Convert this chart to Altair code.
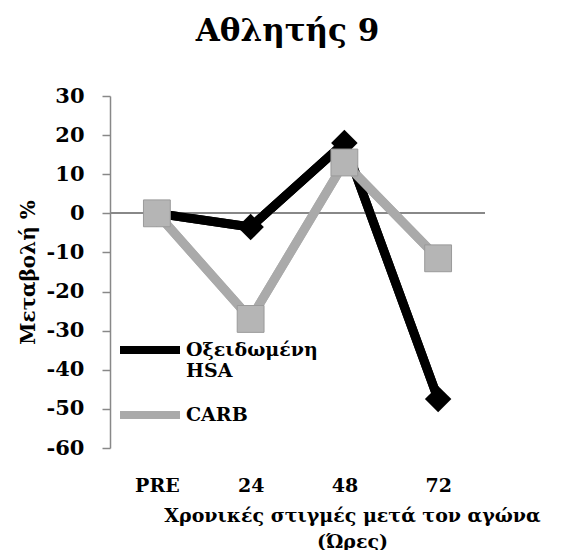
import altair as alt
import pandas as pd

times = ["PRE", "24", "48", "72"]
hsa = [0, -3.5, 18, -47.5]
carb = [0, -27, 13, -11.5]
series_names = ["Οξειδωμένη HSA", "CARB"]
y_ticks = [-60, -50, -40, -30, -20, -10, 0, 10, 20, 30]

rows = []
for t, v in zip(times, hsa):
    rows.append({"t": t, "v": v, "s": series_names[0], "o": 0})
for t, v in zip(times, carb):
    rows.append({"t": t, "v": v, "s": series_names[1], "o": 1})
df = pd.DataFrame(rows)

FONT = "DejaVu Serif"
W, H = 375, 352

x = alt.X("t:N", sort=times, scale=alt.Scale(paddingOuter=0.0, paddingInner=0),
          axis=alt.Axis(title=["Χρονικές στιγμές μετά τον αγώνα", "(Ώρες)"],
                        labelAngle=0, domain=False, ticks=False, labelPadding=28,
                        labelFont=FONT, labelFontSize=19, labelFontWeight="bold", labelColor="black",
                        titleFont=FONT, titleFontSize=19, titleFontWeight="bold", titleColor="black",
                        titleX=242, titleY=58, titleAnchor="middle", titleAlign="center", titleLineHeight=26))
yscale = alt.Scale(domain=[-60, 30], nice=False, zero=False)
yaxis = alt.Axis(title="Μεταβολή %", values=y_ticks, tickCount=10, grid=False, labelOverlap=False,
                 labelExpr="toString(datum.value)",
                 domainColor="#888888", tickColor="#888888", tickSize=8, domainWidth=1.5, tickWidth=1.5,
                 labelFont=FONT, labelFontSize=21, labelFontWeight="bold", labelColor="black",
                 labelPadding=18, titleFont=FONT, titleFontSize=20, titleFontWeight="bold",
                 titleColor="black", titlePadding=8)
y = alt.Y("v:Q", scale=yscale, axis=yaxis)

color = alt.Color("s:N", sort=series_names,
                  scale=alt.Scale(domain=series_names, range=["#000000", "#aaaaaa"]),
                  legend=alt.Legend(title=None, orient="none", legendX=6, legendY=220,
                                    symbolType="stroke", symbolStrokeWidth=8, symbolSize=3600,
                                    labelFont=FONT, labelFontSize=19, labelFontWeight="bold",
                                    labelColor="black", labelOffset=2, rowPadding=0,
                                    labelExpr="datum.label == 'Οξειδωμένη HSA' ? ['Οξειδωμένη', 'HSA'] : datum.label"))

base = alt.Chart(df).encode(x=x, y=y)

lines = base.mark_line(strokeWidth=9, strokeCap="round", strokeJoin="round").encode(
    color=color, detail="s:N", order="o:Q")

zero = alt.Chart(df).mark_rule(color="#888888", strokeWidth=1.5).encode(
    y=alt.YDatum(0, scale=yscale, axis=yaxis), x=alt.value(0), x2=alt.value(W))

hsa_base = base.transform_filter(alt.datum.s == series_names[0])
carb_base = base.transform_filter(alt.datum.s == series_names[1])

hsa_line = hsa_base.mark_line(strokeWidth=9, strokeJoin="round", color="#000000")
hsa_pts = hsa_base.mark_point(shape="diamond", size=700, filled=True, color="#000000", opacity=1)
carb_line = carb_base.mark_line(strokeWidth=9, strokeJoin="round", color="#aaaaaa")
carb_pts = carb_base.mark_point(shape="square", size=720, filled=True, color="#b5b5b5",
                                stroke="#9a9a9a", strokeWidth=1, opacity=1)

chart = alt.layer(lines, zero, hsa_line, hsa_pts, carb_line, carb_pts).properties(
    width=W, height=H,
    title=alt.Title("Αθλητής 9", font=FONT, fontSize=31, fontWeight="bold", color="black",
                    anchor="middle", dx=-10, offset=37),
    autosize=alt.AutoSizeParams(type="none"),
    padding={"left": 102, "top": 88, "right": 79, "bottom": 102},
).configure(background="white", view=alt.ViewConfig(strokeWidth=0, stroke="transparent"))

chart.save("out.html", embed_options={"renderer": "svg", "actions": False})
